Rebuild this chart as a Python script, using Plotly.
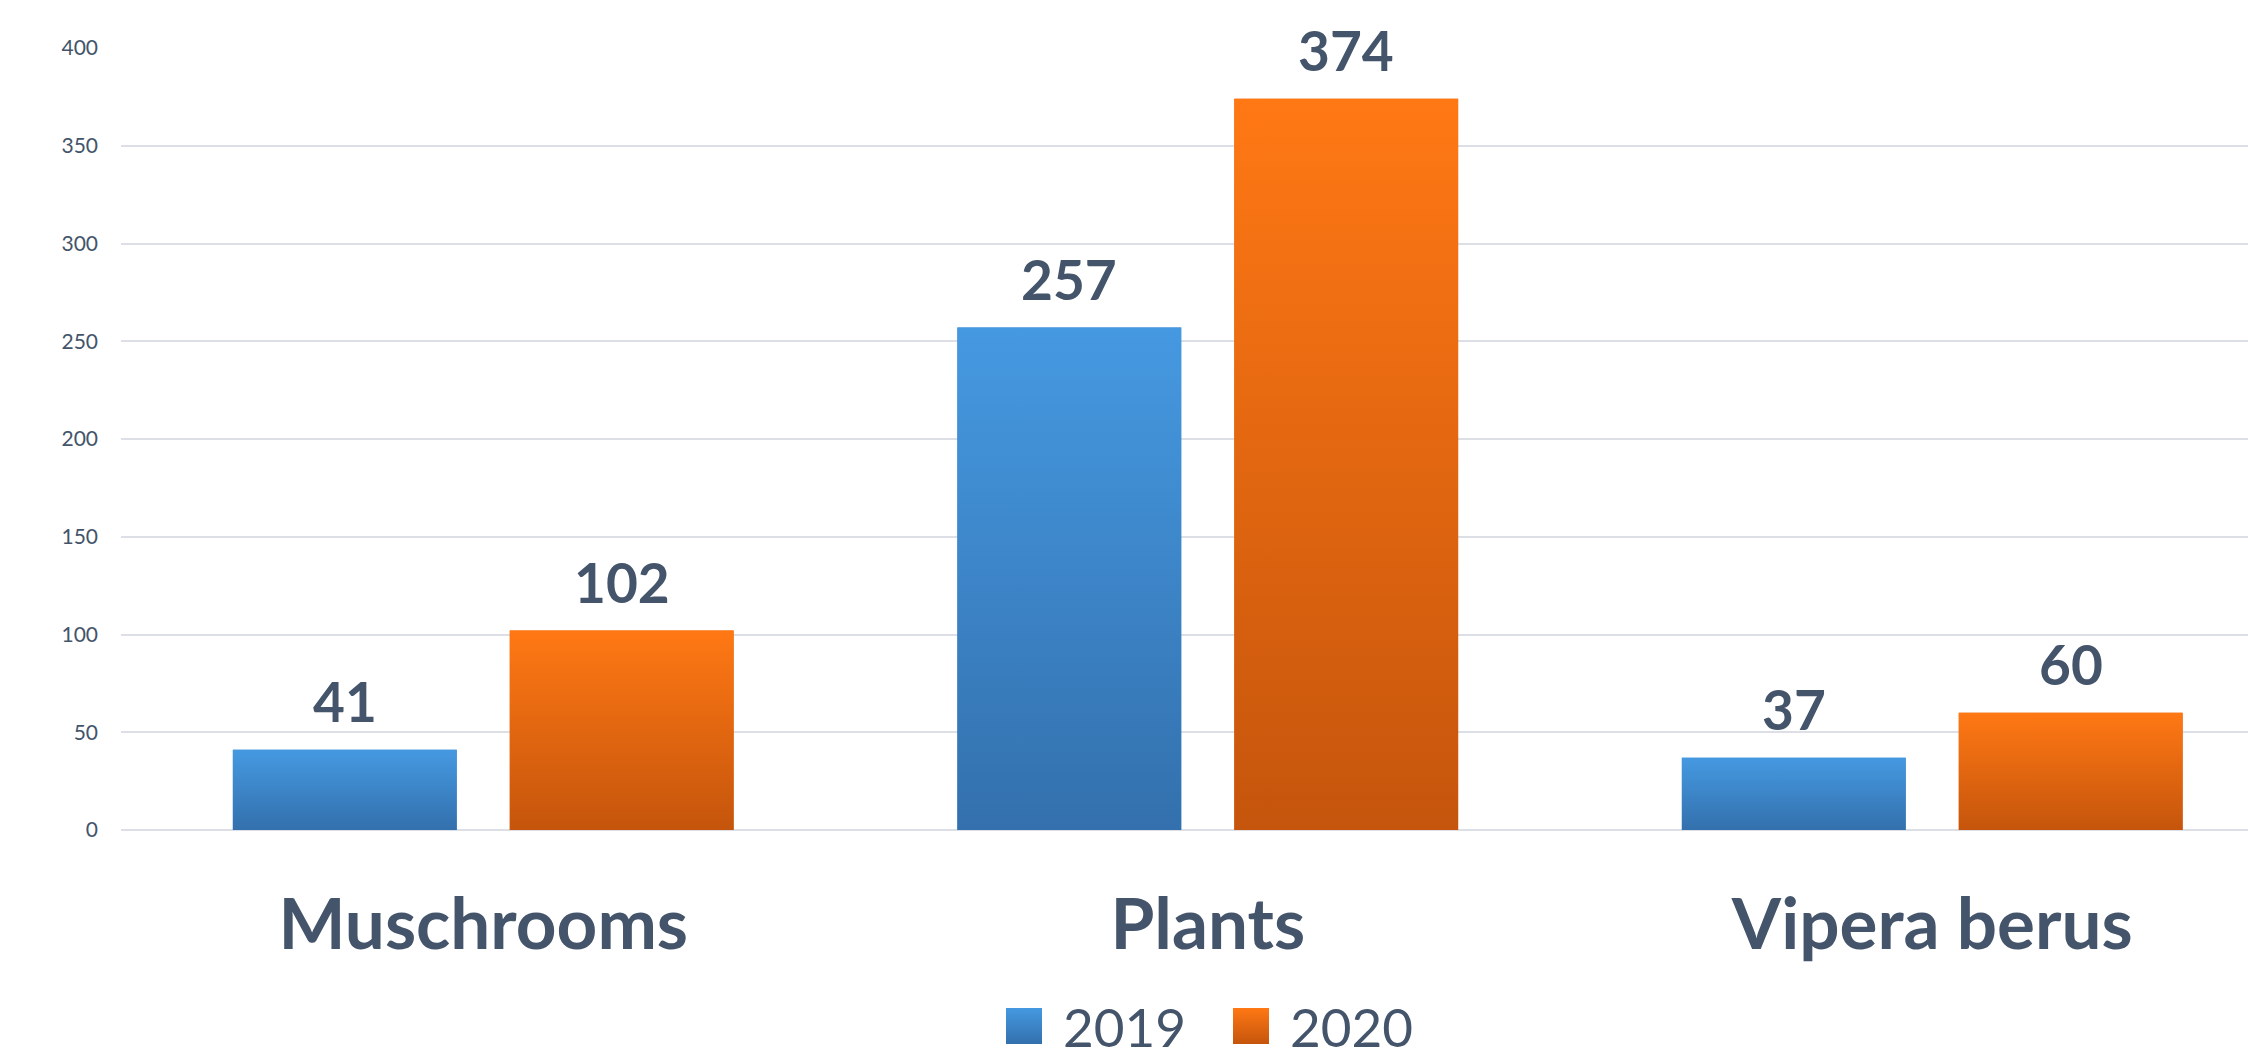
import base64
import plotly.graph_objects as go

# ---- data ----
categories = ["Muschrooms", "Plants", "Vipera berus"]
series_names = ["2019", "2020"]
values_2019 = [41, 257, 37]
values_2020 = [102, 374, 60]
y_ticks = [0, 50, 100, 150, 200, 250, 300, 350, 400]

# ---- styles ----
FONT = "Lato, Carlito, Calibri, sans-serif"
TEXT = "#44546A"
GRID = "#DCE0E6"
COLORS = {
    "2019": {"top": "#4599E1", "bottom": "#3370AD", "mid": "#3C85C7"},
    "2020": {"top": "#FF7814", "bottom": "#C5550C", "mid": "#E26610"},
}
BAR_W = 0.309
HALF_GAP = 0.0366
OFFSETS = {"2019": -HALF_GAP - BAR_W, "2020": HALF_GAP}

W, H = 2248, 1061
ML, MR, MT, MB = 121, 0, 48, 231
PW, PH = W - ML - MR, H - MT - MB

positions = list(range(len(categories)))
series = {"2019": values_2019, "2020": values_2020}

fig = go.Figure()

# real bar traces (base)
for name in series_names:
    fig.add_trace(go.Bar(
        x=positions, y=series[name], name=name,
        width=BAR_W, offset=OFFSETS[name],
        marker=dict(color=COLORS[name]["mid"], line=dict(width=0)),
        showlegend=False, hoverinfo="y+name",
    ))

# gradient overlays, one polygon per bar, built from the same data
for name in series_names:
    for p, v in zip(positions, series[name]):
        x0 = p + OFFSETS[name]
        x1 = x0 + BAR_W
        fig.add_trace(go.Scatter(
            x=[x0, x1, x1, x0, x0], y=[0, 0, v, v, 0],
            mode="lines", fill="toself",
            line=dict(width=0, color="rgba(0,0,0,0)"),
            fillgradient=dict(type="vertical",
                              colorscale=[[0, COLORS[name]["bottom"]], [1, COLORS[name]["top"]]]),
            showlegend=False, hoverinfo="skip",
        ))

# value labels
annotations = []
for name in series_names:
    for p, v in zip(positions, series[name]):
        annotations.append(dict(
            x=p + OFFSETS[name] + BAR_W / 2, y=v, xref="x", yref="y",
            text=f"<b>{v}</b>", showarrow=False, yanchor="bottom", xanchor="center",
            yshift=14, font=dict(family=FONT, size=55, color=TEXT),
        ))

# manual legend
def px_to_paper_x(px):
    return (px - ML) / PW

def px_to_paper_y(py):
    return (H - MB - py) / PH

images = []
legend_sq = {"2019": 1006, "2020": 1233}
legend_txt = {"2019": 1061, "2020": 1288}
SQ = 36
for name in series_names:
    svg = ('<svg xmlns="http://www.w3.org/2000/svg" width="36" height="36">'
           '<defs><linearGradient id="g" x1="0" y1="0" x2="0" y2="1">'
           f'<stop offset="0" stop-color="{COLORS[name]["top"]}"/>'
           f'<stop offset="1" stop-color="{COLORS[name]["bottom"]}"/>'
           '</linearGradient></defs><rect width="36" height="36" fill="url(#g)"/></svg>')
    src = "data:image/svg+xml;base64," + base64.b64encode(svg.encode()).decode()
    images.append(dict(
        source=src, xref="paper", yref="paper",
        x=px_to_paper_x(legend_sq[name]), y=px_to_paper_y(1008),
        sizex=SQ / PW, sizey=SQ / PH, xanchor="left", yanchor="top",
        sizing="stretch", layer="above",
    ))
    annotations.append(dict(
        x=px_to_paper_x(legend_txt[name]), y=px_to_paper_y(1026),
        xref="paper", yref="paper", text=name, showarrow=False,
        xanchor="left", yanchor="middle",
        font=dict(family=FONT, size=53, color=TEXT),
    ))

fig.update_layout(
    width=W, height=H,
    margin=dict(l=ML, r=MR, t=MT, b=MB, pad=0),
    paper_bgcolor="white", plot_bgcolor="white",
    barmode="overlay",
    showlegend=False,
    annotations=annotations,
    images=images,
    xaxis=dict(
        range=[-0.5, -0.5 + PW / 724.5],
        tickmode="array", tickvals=positions, ticktext=categories,
        showgrid=False, zeroline=False, showline=False, ticks="",
        tickfont=dict(family=FONT, size=71, color=TEXT, weight="bold"),
        ticklabelstandoff=47,
    ),
    yaxis=dict(
        range=[0, 400], tickmode="array", tickvals=y_ticks,
        showgrid=True, gridcolor=GRID, gridwidth=1.5,
        zeroline=True, zerolinecolor=GRID, zerolinewidth=1.5,
        showline=False, ticks="",
        tickfont=dict(family=FONT, size=21, color=TEXT),
        ticklabelstandoff=22,
    ),
    font=dict(family=FONT, color=TEXT),
)

fig.write_html("out.html")
